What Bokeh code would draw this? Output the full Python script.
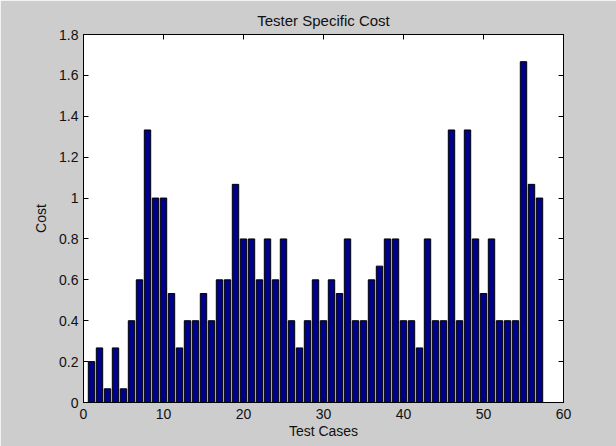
from bokeh.plotting import figure
from bokeh.models import Range1d, FixedTicker, LinearAxis, ColumnDataSource
from bokeh.embed import file_html
from bokeh.resources import INLINE

# ---- data ----
cases = list(range(1, 58))
costs = [0.2, 0.267, 0.067, 0.267, 0.067, 0.4, 0.6, 1.333, 1.0, 1.0,
         0.533, 0.267, 0.4, 0.4, 0.533, 0.4, 0.6, 0.6, 1.067, 0.8,
         0.8, 0.6, 0.8, 0.6, 0.8, 0.4, 0.267, 0.4, 0.6, 0.4,
         0.6, 0.533, 0.8, 0.4, 0.4, 0.6, 0.667, 0.8, 0.8, 0.4,
         0.4, 0.267, 0.8, 0.4, 0.4, 1.333, 0.4, 1.333, 0.8, 0.533,
         0.8, 0.4, 0.4, 0.4, 1.667, 1.067, 1.0]
x_ticks = [0, 10, 20, 30, 40, 50, 60]
x_labels = ["0", "10", "20", "30", "40", "50", "60"]
y_ticks = [0, 0.2, 0.4, 0.6, 0.8, 1.0, 1.2, 1.4, 1.6, 1.8]
y_labels = ["0", "0.2", "0.4", "0.6", "0.8", "1", "1.2", "1.4", "1.6", "1.8"]

FONT = "Liberation Sans"
BG = "#cdcdcd"
TXT = "#111111"

p = figure(frame_width=480, frame_height=368, output_backend="svg",
           toolbar_location=None, x_range=Range1d(0, 60), y_range=Range1d(0, 1.8),
           title="Tester Specific Cost",
           min_border_left=83, min_border_right=53, min_border_top=34, min_border_bottom=44)
p.background_fill_color = "white"
p.border_fill_color = BG
p.outline_line_color = "black"
p.outline_line_width = 1
p.grid.visible = False

p.title.align = "center"
p.title.text_font = FONT
p.title.text_font_size = "15px"
p.title.text_font_style = "normal"
p.title.text_color = TXT
p.title.standoff = 12

src = ColumnDataSource(dict(x=cases, top=costs))
p.vbar(x="x", top="top", width=0.8, source=src, fill_color="#00008F",
       line_color="black", line_width=1)

def style(ax, ticks, labels, show):
    ax.ticker = FixedTicker(ticks=ticks)
    ax.major_label_overrides = {t: (l if show else "") for t, l in zip(ticks, labels)}
    ax.major_tick_in = 5
    ax.major_tick_out = 0
    ax.minor_tick_line_color = None
    ax.axis_line_color = "black"
    ax.major_tick_line_color = "black"
    ax.major_label_text_font = FONT
    ax.major_label_text_font_size = "14px"
    ax.major_label_text_color = TXT
    ax.axis_label_text_font = FONT
    ax.axis_label_text_font_size = "14px"
    ax.axis_label_text_font_style = "normal"
    ax.axis_label_text_color = TXT

xa = p.xaxis[0]
ya = p.yaxis[0]
style(xa, x_ticks, x_labels, True)
style(ya, y_ticks, y_labels, True)
xa.axis_label = "Test Cases"
ya.axis_label = "Cost"
xa.major_label_standoff = 6
xa.axis_label_standoff = 1
ya.major_label_standoff = 5
ya.axis_label_standoff = 7

top = LinearAxis()
right = LinearAxis()
style(top, x_ticks, x_labels, False)
style(right, y_ticks, y_labels, False)
top.major_label_standoff = 0
right.major_label_standoff = 0
p.add_layout(top, "above")
p.add_layout(right, "right")

open("out.html", "w").write(file_html(p, INLINE))
